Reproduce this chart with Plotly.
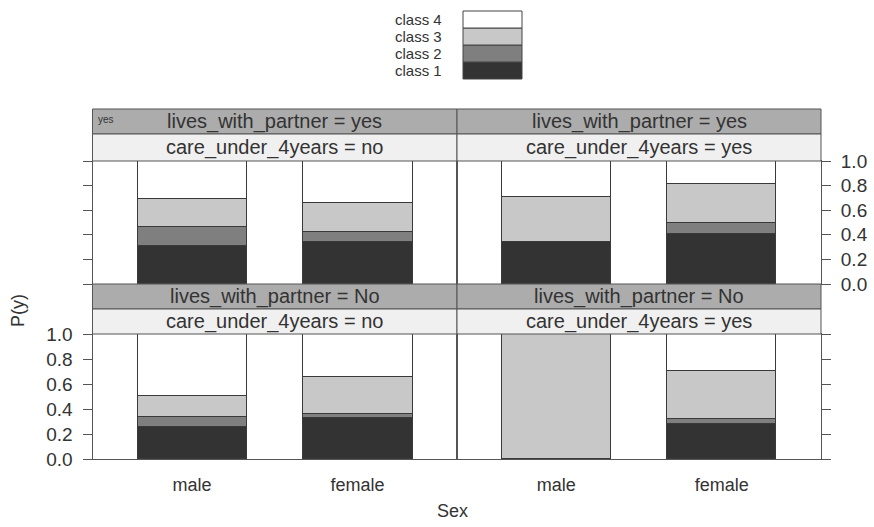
import plotly.graph_objects as go

# ---- data ----
sex = ["male", "female"]
partner = ["yes", "yes", "No", "No"]
care = ["no", "yes", "no", "yes"]
class_names = ["class 1", "class 2", "class 3", "class 4"]
# proportions per panel (male, female) in panel order
class1 = [0.31, 0.345, 0.345, 0.41, 0.26, 0.33, 0.0, 0.277]
class2 = [0.15, 0.08, 0.0, 0.088, 0.074, 0.03, 0.0, 0.043]
class3 = [0.234, 0.236, 0.366, 0.312, 0.171, 0.294, 1.0, 0.386]
class4 = [0.306, 0.339, 0.289, 0.19, 0.495, 0.346, 0.0, 0.294]
y_ticks = [0, 0.2, 0.4, 0.6, 0.8, 1.0]
y_ticktext = ["0.0", "0.2", "0.4", "0.6", "0.8", "1.0"]

colors = ["#333333", "#7f7f7f", "#c8c8c8", "#ffffff"]
series = [class1, class2, class3, class4]

W, H = 874, 527
FONT = "Liberation Sans, Arial, sans-serif"
TXT = "#333333"
LINE = "#555555"


def X(px):
    return px / W


def Y(py):
    return 1 - py / H


def note(x, y, text, size, **kw):
    fig.add_annotation(xref="paper", yref="paper", x=x, y=y, text=text,
                       showarrow=False, xanchor=kw.pop("xanchor", "center"),
                       yanchor="middle", font=dict(family=FONT, size=size, color=TXT),
                       **kw)


# panel geometry (pixels)
xs = [(92.5, 457), (457, 821)]
plot_rows = [(161, 284), (334, 459)]
strip_rows = [((109, 134), (134, 161)), ((284, 309), (309, 334))]

fig = go.Figure()

for i in range(4):
    r, c = divmod(i, 2)
    ax = "" if i == 0 else str(i + 1)
    for k in range(4):
        vals = series[k][2 * i:2 * i + 2]
        fig.add_trace(go.Bar(
            x=sex, y=vals,
            width=0.66,
            name=class_names[k],
            showlegend=False,
            marker=dict(color=colors[k],
                        line=dict(color="#3a3a3a", width=[1 if v > 0 else 0 for v in vals])),
            xaxis="x" + ax, yaxis="y" + ax,
        ))
    x0, x1 = xs[c]
    y0, y1 = plot_rows[r]
    fig.layout["xaxis" + ax] = dict(
        domain=[X(x0), X(x1)], anchor="y" + ax, type="category",
        categoryorder="array", categoryarray=sex,
        range=[-0.6, 1.6], showline=True, mirror=True, linecolor=LINE,
        linewidth=1, showgrid=False, zeroline=False, automargin=False,
        showticklabels=(r == 1), ticks="outside" if r == 1 else "",
        ticklen=9, tickcolor="rgba(0,0,0,0)",
        tickfont=dict(family=FONT, size=18, color=TXT),
    )
    fig.layout["yaxis" + ax] = dict(
        domain=[Y(y1), Y(y0)], anchor="x" + ax, range=[0, 1],
        side="left" if c == 0 else "right", automargin=False,
        tickvals=y_ticks, ticktext=y_ticktext, ticks="outside", ticklen=9,
        ticklabelstandoff=6,
        tickcolor=LINE, showticklabels=(i in (1, 2)),
        showline=True, mirror=True, linecolor=LINE, linewidth=1,
        showgrid=False, zeroline=False,
        tickfont=dict(family=FONT, size=19, color=TXT),
    )
    # strips
    (s1a, s1b), (s2a, s2b) = strip_rows[r]
    fig.add_shape(type="rect", xref="paper", yref="paper",
                  x0=X(x0), x1=X(x1), y0=Y(s1b), y1=Y(s1a),
                  fillcolor="#acacac", line=dict(color=LINE, width=1))
    fig.add_shape(type="rect", xref="paper", yref="paper",
                  x0=X(x0), x1=X(x1), y0=Y(s2b), y1=Y(s2a),
                  fillcolor="#f0f0f0", line=dict(color=LINE, width=1))
    note(X((x0 + x1) / 2), Y((s1a + s1b) / 2), "lives_with_partner = " + partner[i], 20)
    note(X((x0 + x1) / 2), Y((s2a + s2b) / 2), "care_under_4years = " + care[i], 20)

# small corner label
note(X(96), Y(120), "yes", 10, xanchor="left")

# legend (manual)
leg_rows = [(11, 28), (28, 45), (45, 62), (62, 79)]
for k in range(4):
    ya, yb = leg_rows[3 - k]
    fig.add_shape(type="rect", xref="paper", yref="paper",
                  x0=X(463), x1=X(522), y0=Y(yb), y1=Y(ya),
                  fillcolor=colors[k], line=dict(color="#444444", width=1))
    note(X(444), Y((ya + yb) / 2), class_names[k], 15, xanchor="right")

# axis titles
note(X(18), Y(311), "P(y)", 18, textangle=-90)
note(X(452), Y(511), "Sex", 18)

fig.update_layout(
    width=W, height=H, barmode="stack", bargap=0,
    margin=dict(l=0, r=0, t=0, b=0, pad=0, autoexpand=False),
    paper_bgcolor="white", plot_bgcolor="white",
    showlegend=False,
)

fig.write_html("out.html", config={"displayModeBar": False},
               post_script="document.body.style.margin='0';document.body.style.padding='0';")
